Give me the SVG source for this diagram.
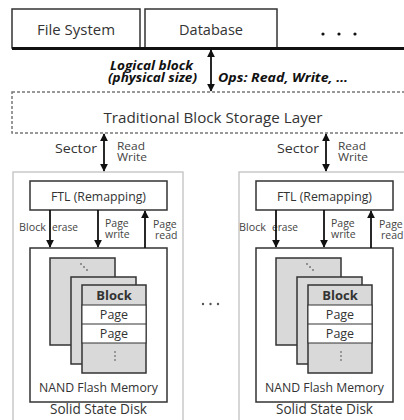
<svg xmlns="http://www.w3.org/2000/svg" width="404" height="420" viewBox="0 0 404 420">
<defs>
<style>
text{font-family:"Open Sans","Noto Sans",sans-serif;fill:#333}
.box{fill:#fff;stroke:#333;stroke-width:1.5}
.outer{fill:#fff;stroke:#bbb;stroke-width:1.2}
.blk{fill:#d9d9d9;stroke:#333;stroke-width:1.5}
.wht{fill:#fff;stroke:#333;stroke-width:1}
.conn{stroke:#111;stroke-width:1.8;fill:none}
.lbl{font-size:10.5px;fill:#444}
.bi{font-weight:bold;font-style:italic;font-size:11.5px;fill:#111}
</style>
<marker id="ah" viewBox="0 0 10 10" refX="9" refY="5" markerWidth="8" markerHeight="8" markerUnits="userSpaceOnUse" orient="auto-start-reverse">
<path d="M0,0 L10,5 L0,10 z" fill="#111"/>
</marker>
</defs>
<rect width="404" height="420" fill="#fff"/>

<g id="filesystem">
<rect class="box" x="12" y="9" width="128" height="39"/>
<text x="76" y="35" font-size="14" text-anchor="middle" textLength="78" lengthAdjust="spacingAndGlyphs">File System</text>
</g>
<g id="database">
<rect class="box" x="145" y="9" width="132" height="39"/>
<text x="211" y="35" font-size="14" text-anchor="middle" textLength="64" lengthAdjust="spacingAndGlyphs">Database</text>
</g>
<g id="more-apps">
<circle cx="323" cy="34" r="1.6" fill="#111"/>
<circle cx="339" cy="34" r="1.6" fill="#111"/>
<circle cx="355" cy="34" r="1.6" fill="#111"/>
</g>
<line x1="12" y1="48.5" x2="404" y2="48.5" stroke="#111" stroke-width="3"/>

<g id="block-layer">
<rect x="12" y="92" width="400" height="41" fill="#fff" stroke="#777" stroke-width="1.5" stroke-dasharray="3,2"/>
<text x="213" y="123" font-size="14" text-anchor="middle" textLength="219" lengthAdjust="spacingAndGlyphs">Traditional Block Storage Layer</text>
</g>

<g id="ssd1">
<rect class="outer" x="13" y="172" width="170" height="260"/>
<rect class="box" x="30" y="181" width="137" height="29"/>
<text x="98.5" y="201" font-size="13" text-anchor="middle" textLength="95" lengthAdjust="spacingAndGlyphs">FTL (Remapping)</text>
<rect class="box" x="30" y="248" width="137" height="154"/>
<rect class="blk" x="50" y="258" width="65" height="87"/>
<circle cx="81" cy="264" r="0.8" fill="#333"/><circle cx="84" cy="267" r="0.8" fill="#333"/><circle cx="87" cy="270" r="0.8" fill="#333"/>
<rect class="blk" x="71" y="277" width="65" height="87"/>
<rect class="blk" x="82" y="285" width="64" height="88"/>
<rect class="wht" x="82" y="305" width="64" height="38"/>
<line x1="82" y1="324" x2="146" y2="324" stroke="#333" stroke-width="1"/>
<text x="114" y="300" font-size="13" font-weight="bold" text-anchor="middle" fill="#222">Block</text>
<text x="114" y="319" font-size="12.5" text-anchor="middle">Page</text>
<text x="114" y="338" font-size="12.5" text-anchor="middle">Page</text>
<circle cx="115" cy="352" r="0.8" fill="#444"/><circle cx="115" cy="356" r="0.8" fill="#444"/><circle cx="115" cy="360" r="0.8" fill="#444"/>
<text x="98.5" y="392" font-size="12.5" text-anchor="middle" textLength="119" lengthAdjust="spacingAndGlyphs">NAND Flash Memory</text>
<text x="98.5" y="414" font-size="14" text-anchor="middle" textLength="97" lengthAdjust="spacingAndGlyphs">Solid State Disk</text>
<text class="lbl" x="19" y="231" textLength="27" lengthAdjust="spacingAndGlyphs">Block</text>
<text class="lbl" x="52" y="231" textLength="26" lengthAdjust="spacingAndGlyphs">erase</text>
<text class="lbl"><tspan x="105" y="227">Page</tspan><tspan x="105" y="237.5">write</tspan></text>
<text class="lbl"><tspan x="153" y="228">Page</tspan><tspan x="155" y="238.5">read</tspan></text>
</g>

<g id="ssd2" transform="translate(226,0)">
<rect class="outer" x="13" y="172" width="170" height="260"/>
<rect class="box" x="30" y="181" width="137" height="29"/>
<text x="98.5" y="201" font-size="13" text-anchor="middle" textLength="95" lengthAdjust="spacingAndGlyphs">FTL (Remapping)</text>
<rect class="box" x="30" y="248" width="137" height="154"/>
<rect class="blk" x="50" y="258" width="65" height="87"/>
<circle cx="81" cy="264" r="0.8" fill="#333"/><circle cx="84" cy="267" r="0.8" fill="#333"/><circle cx="87" cy="270" r="0.8" fill="#333"/>
<rect class="blk" x="71" y="277" width="65" height="87"/>
<rect class="blk" x="82" y="285" width="64" height="88"/>
<rect class="wht" x="82" y="305" width="64" height="38"/>
<line x1="82" y1="324" x2="146" y2="324" stroke="#333" stroke-width="1"/>
<text x="114" y="300" font-size="13" font-weight="bold" text-anchor="middle" fill="#222">Block</text>
<text x="114" y="319" font-size="12.5" text-anchor="middle">Page</text>
<text x="114" y="338" font-size="12.5" text-anchor="middle">Page</text>
<circle cx="115" cy="352" r="0.8" fill="#444"/><circle cx="115" cy="356" r="0.8" fill="#444"/><circle cx="115" cy="360" r="0.8" fill="#444"/>
<text x="98.5" y="392" font-size="12.5" text-anchor="middle" textLength="119" lengthAdjust="spacingAndGlyphs">NAND Flash Memory</text>
<text x="98.5" y="414" font-size="14" text-anchor="middle" textLength="97" lengthAdjust="spacingAndGlyphs">Solid State Disk</text>
<text class="lbl" x="13" y="231" textLength="27" lengthAdjust="spacingAndGlyphs">Block</text>
<text class="lbl" x="46" y="231" textLength="26" lengthAdjust="spacingAndGlyphs">erase</text>
<text class="lbl"><tspan x="105" y="227">Page</tspan><tspan x="105" y="237.5">write</tspan></text>
<text class="lbl"><tspan x="153" y="228">Page</tspan><tspan x="155" y="238.5">read</tspan></text>
</g>

<g id="ellipsis-mid">
<circle cx="203" cy="304" r="1.2" fill="#555"/>
<circle cx="210.5" cy="304" r="1.2" fill="#555"/>
<circle cx="218" cy="304" r="1.2" fill="#555"/>
</g>

<g id="labels">
<text class="bi" text-anchor="end"><tspan x="193" y="70" textLength="83" lengthAdjust="spacingAndGlyphs">Logical block</tspan><tspan x="197" y="82" textLength="89" lengthAdjust="spacingAndGlyphs">(physical size)</tspan></text>
<text class="bi" x="218" y="82" textLength="130" lengthAdjust="spacingAndGlyphs">Ops: Read, Write, …</text>
<text x="55" y="153" font-size="13" textLength="42" lengthAdjust="spacingAndGlyphs">Sector</text>
<text class="lbl"><tspan x="117" y="150" textLength="28" lengthAdjust="spacingAndGlyphs">Read</tspan><tspan x="117" y="161" textLength="30" lengthAdjust="spacingAndGlyphs">Write</tspan></text>
<text x="277" y="153" font-size="13" textLength="42" lengthAdjust="spacingAndGlyphs">Sector</text>
<text class="lbl"><tspan x="338" y="150" textLength="28" lengthAdjust="spacingAndGlyphs">Read</tspan><tspan x="338" y="161" textLength="30" lengthAdjust="spacingAndGlyphs">Write</tspan></text>
</g>

<g id="connectors">
<line class="conn" x1="211" y1="50" x2="211" y2="91" marker-start="url(#ah)" marker-end="url(#ah)"/>
<line class="conn" x1="104" y1="134" x2="104" y2="171" marker-start="url(#ah)" marker-end="url(#ah)"/>
<line class="conn" x1="326" y1="134" x2="326" y2="171" marker-start="url(#ah)" marker-end="url(#ah)"/>
<line class="conn" x1="50" y1="210" x2="50" y2="247" marker-end="url(#ah)"/>
<line class="conn" x1="98" y1="210" x2="98" y2="247" marker-end="url(#ah)"/>
<line class="conn" x1="145" y1="248" x2="145" y2="211" marker-end="url(#ah)"/>
<line class="conn" x1="276" y1="210" x2="276" y2="247" marker-end="url(#ah)"/>
<line class="conn" x1="324" y1="210" x2="324" y2="247" marker-end="url(#ah)"/>
<line class="conn" x1="371" y1="248" x2="371" y2="211" marker-end="url(#ah)"/>
</g>
</svg>
